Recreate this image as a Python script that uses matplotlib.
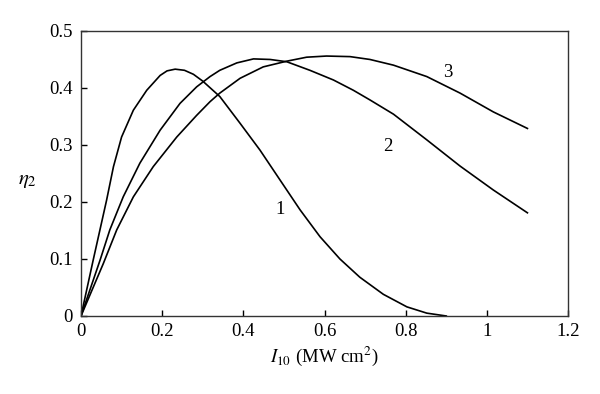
import matplotlib
matplotlib.use("Agg")
import matplotlib.pyplot as plt

plt.rcParams['font.family'] = ['Liberation Serif', 'DejaVu Serif']
plt.rcParams['mathtext.fontset'] = 'stix'

# values
x1 = [0, 0.030, 0.063, 0.080, 0.100, 0.129, 0.162, 0.195, 0.212, 0.232, 0.255,
      0.277, 0.300, 0.342, 0.392, 0.441, 0.490, 0.540, 0.589, 0.638, 0.687,
      0.745, 0.803, 0.852, 0.900]
y1 = [0, 0.098, 0.203, 0.262, 0.314, 0.361, 0.396, 0.422, 0.430, 0.433, 0.431,
      0.424, 0.412, 0.385, 0.338, 0.291, 0.239, 0.186, 0.139, 0.100, 0.068,
      0.038, 0.016, 0.005, 0]

x2 = [0, 0.047, 0.071, 0.104, 0.145, 0.195, 0.244, 0.285, 0.318, 0.342, 0.384,
      0.425, 0.466, 0.507, 0.564, 0.622, 0.671, 0.712, 0.770, 0.852, 0.934,
      1.016, 1.100]
y2 = [0, 0.098, 0.151, 0.209, 0.268, 0.326, 0.373, 0.402, 0.420, 0.431, 0.444,
      0.451, 0.450, 0.446, 0.431, 0.414, 0.396, 0.379, 0.354, 0.309, 0.263,
      0.221, 0.181]

x3 = [0, 0.055, 0.088, 0.129, 0.178, 0.236, 0.285, 0.318, 0.342, 0.392, 0.449,
      0.507, 0.556, 0.605, 0.663, 0.712, 0.770, 0.852, 0.934, 1.016, 1.100]
y3 = [0, 0.092, 0.151, 0.209, 0.262, 0.314, 0.352, 0.376, 0.391, 0.417, 0.437,
      0.447, 0.454, 0.456, 0.455, 0.450, 0.440, 0.420, 0.391, 0.358, 0.329]

curve_labels = ['1', '2', '3']
label_x = [0.490, 0.757, 0.903]
label_y = [0.186, 0.298, 0.428]

xticks = [0, 0.2, 0.4, 0.6, 0.8, 1, 1.2]
xtick_labels = ['0', '0.2', '0.4', '0.6', '0.8', '1', '1.2']
yticks = [0, 0.1, 0.2, 0.3, 0.4, 0.5]
ytick_labels = ['0', '0.1', '0.2', '0.3', '0.4', '0.5']

fig = plt.figure(figsize=(6, 3.94), dpi=100)
ax = fig.add_axes([0.135, 0.198, 0.8117, 0.7234])

for xs, ys in [(x1, y1), (x2, y2), (x3, y3)]:
    ax.plot(xs, ys, color='black', linewidth=1.2, solid_joinstyle='round')

for lab, lx, ly in zip(curve_labels, label_x, label_y):
    ax.text(lx, ly, lab, fontsize=13.5, ha='center', va='center')

ax.set_xlim(0, 1.2)
ax.set_ylim(0, 0.5)
ax.set_xticks(xticks)
ax.set_xticklabels(xtick_labels)
ax.set_yticks(yticks)
ax.set_yticklabels(ytick_labels)
ax.tick_params(direction='in', length=4, width=1, labelsize=13.5,
               top=False, right=False)
ax.tick_params(axis='y', pad=6)
ax.tick_params(axis='x', pad=5)
for sp in ax.spines.values():
    sp.set_linewidth(1.0)
    sp.set_color('#333333')

ax.set_xlabel(r'$I_{10}$ (MW cm$^2$)', fontsize=13.5, labelpad=3)
ax.set_ylabel(r'$\eta_2$', fontsize=15, rotation=0, va='center', ha='center')
ax.yaxis.set_label_coords(-0.109, 0.477)

fig.savefig('out.png', dpi=100)
plt.close(fig)
